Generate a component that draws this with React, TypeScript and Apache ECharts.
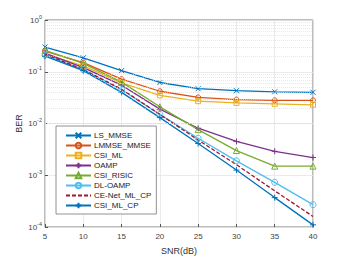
import React, { useEffect, useRef } from "react";
import * as echarts from "echarts";

const snr = [5, 10, 15, 20, 25, 30, 35, 40];
const lsMmse = [0.3, 0.186, 0.105, 0.062, 0.047, 0.043, 0.041, 0.04];
const lmmseMmse = [0.25, 0.15, 0.072, 0.042, 0.032, 0.029, 0.028, 0.028];
const csiMl = [0.22, 0.13, 0.061, 0.035, 0.027, 0.025, 0.024, 0.023];
const oamp = [0.23, 0.12, 0.055, 0.019, 0.0081, 0.0045, 0.0029, 0.0022];
const csiRisic = [0.26, 0.145, 0.063, 0.021, 0.0076, 0.003, 0.0015, 0.0015];
const dlOamp = [0.21, 0.11, 0.045, 0.015, 0.0052, 0.0019, 0.00073, 0.00027];
const ceNet = [0.22, 0.11, 0.046, 0.015, 0.0048, 0.0016, 0.0005, 0.00016];
const csiMlCp = [0.2, 0.105, 0.04, 0.013, 0.0041, 0.00126, 0.00037, 0.00011];
const yMinorTicks = [2, 3, 4, 5, 6, 7, 8, 9];
const legendNames = ["LS_MMSE", "LMMSE_MMSE", "CSI_ML", "OAMP", "CSI_RISIC", "DL-OAMP", "CE-Net_ML_CP", "CSI_ML_CP"];

const X_SYM = "path://M0,0L10,10M10,0L0,10";
const PLUS_SYM = "path://M5,0L5,10M0,5L10,5";

export default function App() {
  const ref = useRef<HTMLDivElement>(null);
  useEffect(() => {
    const chart = echarts.init(ref.current!, null, { renderer: "svg" });
    const font = "Liberation Sans, Arial, sans-serif";
    const mk = (
      name: string,
      data: number[],
      color: string,
      symbol: string,
      size: number,
      dashed = false
    ) => ({
      name,
      type: "line",
      data: snr.map((x, i) => [x, data[i]]),
      symbol,
      symbolSize: size,
      showSymbol: symbol !== "none",
      lineStyle: { color, width: 1.3, type: dashed ? [4, 2] : "solid" },
      itemStyle: { color: symbol.startsWith("path") ? color : "rgba(255,255,255,0)", borderColor: color, borderWidth: 1 },
      emphasis: { disabled: true },
      z: 3,
    });
    const minorVals: number[] = [];
    for (const d of [1e-4, 1e-3, 1e-2, 1e-1]) for (const m of yMinorTicks) minorVals.push(m * d);
    const series: any[] = [
      mk("LS_MMSE", lsMmse, "#0072BD", X_SYM, 5),
      mk("LMMSE_MMSE", lmmseMmse, "#D95319", "circle", 5),
      mk("CSI_ML", csiMl, "#EDB120", "rect", 5),
      mk("OAMP", oamp, "#7E2F8E", PLUS_SYM, 6),
      mk("CSI_RISIC", csiRisic, "#77AC30", "triangle", 6),
      mk("DL-OAMP", dlOamp, "#4DBEEE", "circle", 6),
      mk("CE-Net_ML_CP", ceNet, "#A2142F", "none", 0, true),
      mk("CSI_ML_CP", csiMlCp, "#0072BD", PLUS_SYM, 6),
    ];
    series.push({
      type: "line",
      data: [],
      silent: true,
      markLine: {
        silent: true,
        symbol: "none",
        label: { show: false },
        lineStyle: { color: "#d8d8d8", type: [1, 1], width: 0.6 },
        data: minorVals.map((v) => ({ yAxis: v })),
      },
      z: 1,
    });
    chart.setOption({
      animation: false,
      textStyle: { fontFamily: font },
      grid: { left: 45, right: 33, top: 20, bottom: 29, show: true, borderColor: "#555", borderWidth: 0.8, backgroundColor: "#fff" },
      xAxis: {
        type: "value",
        min: 5,
        max: 40,
        interval: 5,
        name: "SNR(dB)",
        nameLocation: "middle",
        nameGap: 19,
        nameMoveOverlap: false,
        nameTextStyle: { fontSize: 9, color: "#333" },
        axisLine: { show: false },
        axisTick: { inside: true, length: 3, lineStyle: { color: "#555" } },
        axisLabel: { fontSize: 8, color: "#444", margin: 5 },
        splitLine: { show: true, lineStyle: { color: "#e6e6e6", width: 0.8 } },
      },
      yAxis: {
        type: "log",
        logBase: 10,
        min: 1e-4,
        max: 1,
        name: "BER",
        nameLocation: "middle",
        nameGap: 22,
        nameMoveOverlap: false,
        nameTextStyle: { fontSize: 9, color: "#333" },
        axisLine: { show: false },
        axisTick: { inside: true, length: 3, lineStyle: { color: "#555" } },
        axisLabel: {
          fontSize: 8,
          color: "#444",
          margin: 3,
          formatter: (v: number) => `{b|10}{s|${Math.round(Math.log10(v))}}`,
          rich: {
            b: { fontSize: 8, color: "#444" },
            s: { fontSize: 5.5, color: "#444", padding: [0, 0, 7, 0] },
          },
        },
        splitLine: { show: true, lineStyle: { color: "#e6e6e6", width: 0.8 } },
      },
      legend: {
        orient: "vertical",
        left: 56,
        top: 126,
        backgroundColor: "#fff",
        borderColor: "#777",
        borderWidth: 0.8,
        padding: [5, 5, 4, 9],
        itemWidth: 25,
        itemHeight: 7,
        itemGap: 1,
        textStyle: { fontSize: 8, lineHeight: 9, color: "#222", padding: [0, 0, 0, -2] },
        data: legendNames.map((n) =>
          n === "CE-Net_ML_CP" ? { name: n, itemStyle: { opacity: 0 } } : { name: n }
        ),
        selectedMode: false,
      },
      series,
    });
    return () => chart.dispose();
  }, []);
  return <div ref={ref} style={{ position: "absolute", left: 0, top: 0, width: 346, height: 260 }} />;
}
